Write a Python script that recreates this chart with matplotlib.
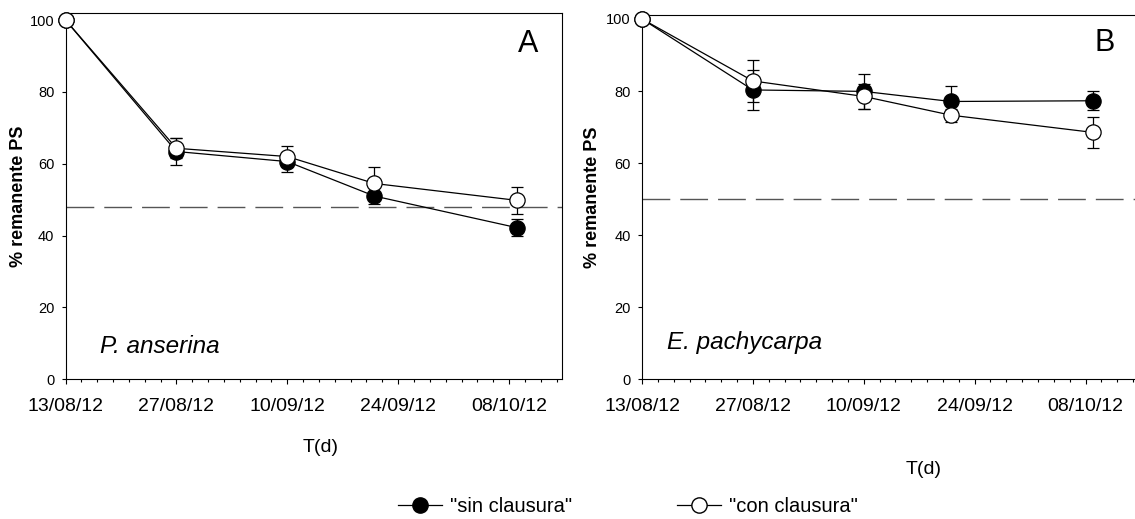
import numpy as np
import matplotlib
matplotlib.use("Agg")
import matplotlib.pyplot as plt
from matplotlib.lines import Line2D

plt.rcParams['font.family'] = ['Liberation Sans', 'DejaVu Sans']

# dias desde el 13/08/12
dias = [0, 14, 28, 39, 57]
tick_dias = [0, 14, 28, 42, 56]
tick_labels = ['13/08/12', '27/08/12', '10/09/12', '24/09/12', '08/10/12']

# P. anserina (A)
a_sin = [100, 63.4, 60.6, 51.0, 42.2]
a_sin_err = [0, 3.8, 2.8, 2.2, 2.4]
a_con = [100, 64.3, 62.0, 54.5, 49.8]
a_con_err = [0, 2.8, 2.9, 4.7, 3.8]
a_ref = 48.0

# E. pachycarpa (B)
b_sin = [100, 80.3, 79.9, 77.1, 77.3]
b_sin_err = [0, 5.5, 4.9, 4.3, 2.6]
b_con = [100, 82.8, 78.5, 73.3, 68.5]
b_con_err = [0, 5.9, 3.4, 1.8, 4.3]
b_ref = 50.0

W, H = 1135, 519
fig = plt.figure(figsize=(W / 100, H / 100), dpi=100)

axA = fig.add_axes([65.5 / W, 139.7 / H, 496.2 / W, 366.3 / H])
axB = fig.add_axes([642 / W, 139.7 / H, 496.2 / W, 364.3 / H])


def panel(ax, sin, sin_err, con, con_err, ref, ytop, letra, especie, esp_x, esp_y):
    ax.errorbar(dias, sin, yerr=sin_err, fmt='none', ecolor='black', elinewidth=0.9,
                capsize=4, capthick=0.9, zorder=2)
    ax.errorbar(dias, con, yerr=con_err, fmt='none', ecolor='black', elinewidth=0.9,
                capsize=4, capthick=0.9, zorder=2)
    ax.plot(dias, sin, '-o', color='black', mfc='black', mec='black', ms=11, lw=0.9,
            mew=0.9, zorder=3, clip_on=False)
    ax.plot(dias, con, '-o', color='black', mfc='white', mec='black', ms=11, lw=0.9,
            mew=0.9, zorder=4, clip_on=False)
    ax.axhline(ref, color='#555555', lw=1.0, dashes=(20, 7.2), zorder=1)

    ax.set_xlim(0, 62.65)
    ax.set_ylim(0, ytop)
    ax.set_xticks(tick_dias)
    ax.set_xticklabels(tick_labels, fontsize=14)
    ax.set_xticks(np.arange(0, 63, 2), minor=True)
    ax.set_yticks([0, 20, 40, 60, 80, 100])
    ax.tick_params(axis='y', labelsize=10.5, length=3, width=0.8, pad=5)
    ax.tick_params(axis='x', which='major', length=3.6, width=0.8, pad=10)
    ax.tick_params(axis='x', which='minor', length=2.2, width=0.8)
    for s in ax.spines.values():
        s.set_linewidth(0.8)

    ax.set_ylabel('% remanente PS', fontsize=13, fontweight='bold')
    ax.text(58.4, 93.3, letra, fontsize=22, ha='center', va='center')
    ax.text(esp_x, esp_y, especie, fontsize=17.5, style='italic', ha='left', va='center')
    ax.set_xlabel('T(d)', fontsize=14)


panel(axA, a_sin, a_sin_err, a_con, a_con_err, a_ref, 101.95, 'A', 'P. anserina', 4.4, 9.1)
panel(axB, b_sin, b_sin_err, b_con, b_con_err, b_ref, 101.1, 'B', 'E. pachycarpa', 3.1, 10.1)

axA.yaxis.set_label_coords(-0.0775, 0.5)
axB.yaxis.set_label_coords(-0.0825, 0.5)
axA.xaxis.set_label_coords(0.515, -0.163)
axB.xaxis.set_label_coords(0.567, -0.224)

handles = [
    Line2D([], [], color='black', marker='o', mfc='black', mec='black', ms=11, lw=0.9),
    Line2D([], [], color='black', marker='o', mfc='white', mec='black', ms=11, lw=0.9),
]
fig.legend(handles, ['"sin clausura"', '"con clausura"'], loc='center',
           bbox_to_anchor=(628 / W, 1 - 507 / H), ncol=2, frameon=False,
           fontsize=14.5, handlelength=2.2, handletextpad=0.4, columnspacing=5.2,
           borderpad=0)

fig.savefig('out.png', dpi=100)
